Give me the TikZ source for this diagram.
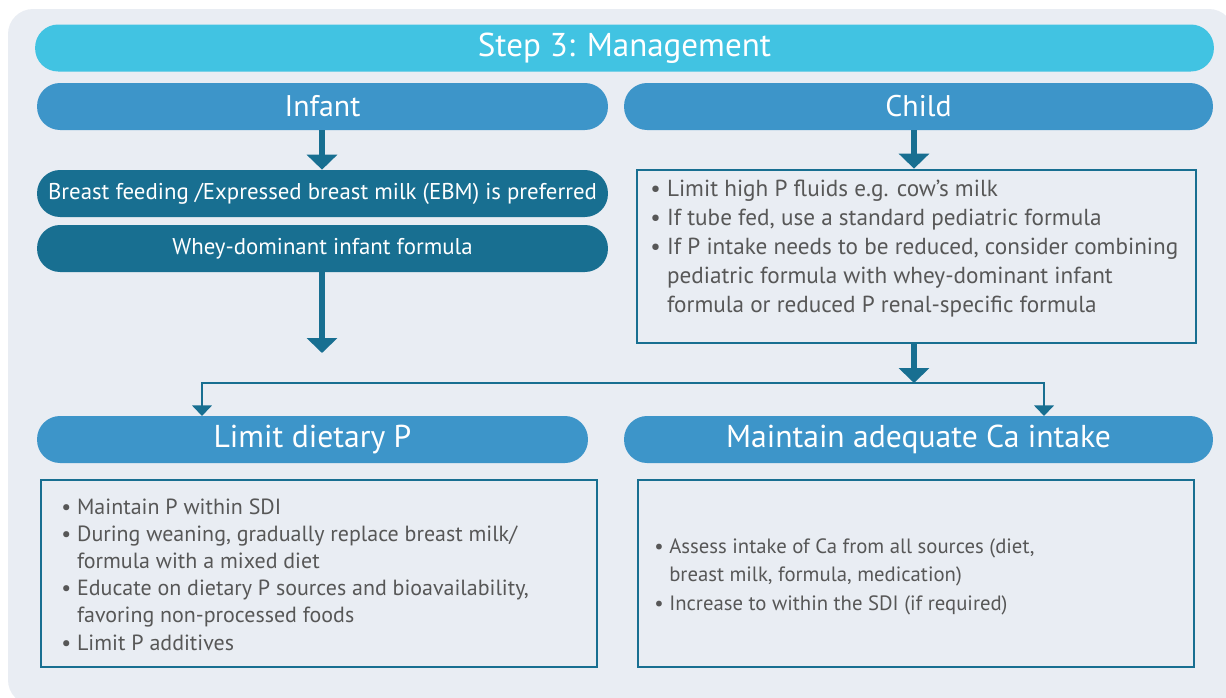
\documentclass[tikz,border=0pt]{standalone}
\usepackage{fontspec}
\setmainfont{PT Sans}
\usetikzlibrary{arrows.meta}

\definecolor{bgcol}{HTML}{E9EDF3}
\definecolor{stepcol}{HTML}{41C3E2}
\definecolor{headcol}{HTML}{3D95C9}
\definecolor{tealcol}{HTML}{186F91}
\definecolor{txtcol}{HTML}{575757}

\begin{document}
\begin{tikzpicture}[x=0.02cm,y=-0.02cm,
    bar/.style={fill=#1,text=white,rounded corners=0.46cm,minimum height=0.94cm,
      inner sep=0pt,font=\fontsize{17}{20}\selectfont},
    pill/.style={fill=tealcol,text=white,rounded corners=0.46cm,minimum height=0.94cm,
      minimum width=11.42cm,inner sep=0pt,font=\fontsize{13}{15}\selectfont},
    frame/.style={draw=tealcol,line width=1.6pt,inner sep=0pt},
    body/.style={text=txtcol,align=left,inner sep=0pt},
    bigarrow/.style={draw=tealcol,line width=3pt,-{Triangle[width=17pt,length=8.5pt]}},
    thinarrow/.style={draw=tealcol,line width=1.5pt,
      {Triangle[width=11pt,length=6pt]}-{Triangle[width=11pt,length=6pt]}}]

  \useasboundingbox (0,0) rectangle (1226,697);
  \fill[bgcol,rounded corners=0.5cm] (8,9) rectangle (1234,705);

  % headers
  \node[bar=stepcol,minimum width=23.58cm,font=\fontsize{18.8}{22}\selectfont] (step) at (624.5,48) {Step 3: Management};
  \node[bar=headcol,minimum width=11.42cm] (infant) at (322.5,106.5) {Infant};
  \node[bar=headcol,minimum width=11.78cm] (child) at (918.5,106.5) {Child};

  % infant column
  \node[pill] (breast) at (322.5,193.5) {Breast feeding /Expressed breast milk (EBM) is preferred};
  \node[pill] (whey) at (322.5,248.5) {Whey-dominant infant formula};
  \coordinate (infend) at (322,353);

  % child column
  \node[frame,minimum width=11.18cm,minimum height=3.46cm] (childbox) at (916.5,256.5) {};
  \node[body,anchor=north west,font=\fontsize{13.2}{16.4}\selectfont] (childtxt) at (650,180)
    {\textbullet\ Limit high P fluids e.g. cow’s milk\\
     \textbullet\ If tube fed, use a standard pediatric formula\\
     \textbullet\ If P intake needs to be reduced, consider combining\\
     \phantom{\textbullet\ }pediatric formula with whey-dominant infant\\
     \phantom{\textbullet\ }formula or reduced P renal-specific formula};
  \coordinate (split) at (914,383);

  % bottom headers
  \node[bar=headcol,minimum width=11.02cm,font=\fontsize{18}{22}\selectfont] (limit) at (312.5,439.5) {Limit dietary P};
  \node[bar=headcol,minimum width=11.78cm,font=\fontsize{18}{22}\selectfont] (calc) at (918.5,439.5) {Maintain adequate Ca intake};
  \coordinate (limtop) at (202,416);
  \coordinate (caltop) at (1044,416);

  % bottom boxes
  \node[frame,minimum width=11.12cm,minimum height=3.74cm] (limbox) at (319,573.5) {};
  \node[body,anchor=north west,font=\fontsize{12.5}{15.5}\selectfont] (limtxt) at (61,498)
    {\textbullet\ Maintain P within SDI\\
     \textbullet\ During weaning, gradually replace breast milk/\\
     \phantom{\textbullet\ }formula with a mixed diet\\
     \textbullet\ Educate on dietary P sources and bioavailability,\\
     \phantom{\textbullet\ }favoring non-processed foods\\
     \textbullet\ Limit P additives};
  \node[frame,minimum width=11.12cm,minimum height=3.74cm] (calbox) at (916,573.5) {};
  \node[body,anchor=north west,font=\fontsize{11.8}{16.2}\selectfont] (caltxt) at (654,538)
    {\textbullet\ Assess intake of Ca from all sources (diet,\\
     \phantom{\textbullet\ }breast milk, formula, medication)\\
     \textbullet\ Increase to within the SDI (if required)};

  % arrows
  \draw[bigarrow] (infant.south -| 322,0) -- (breast.north -| 322,0);
  \draw[bigarrow] (whey.south -| infend) -- (infend);
  \draw[bigarrow] (child.south -| split) -- (childbox.north -| split);
  \draw[bigarrow] (childbox.south -| split) -- (split);
  \draw[thinarrow] (limtop) |- (split) -| (caltop);
\end{tikzpicture}
\end{document}
